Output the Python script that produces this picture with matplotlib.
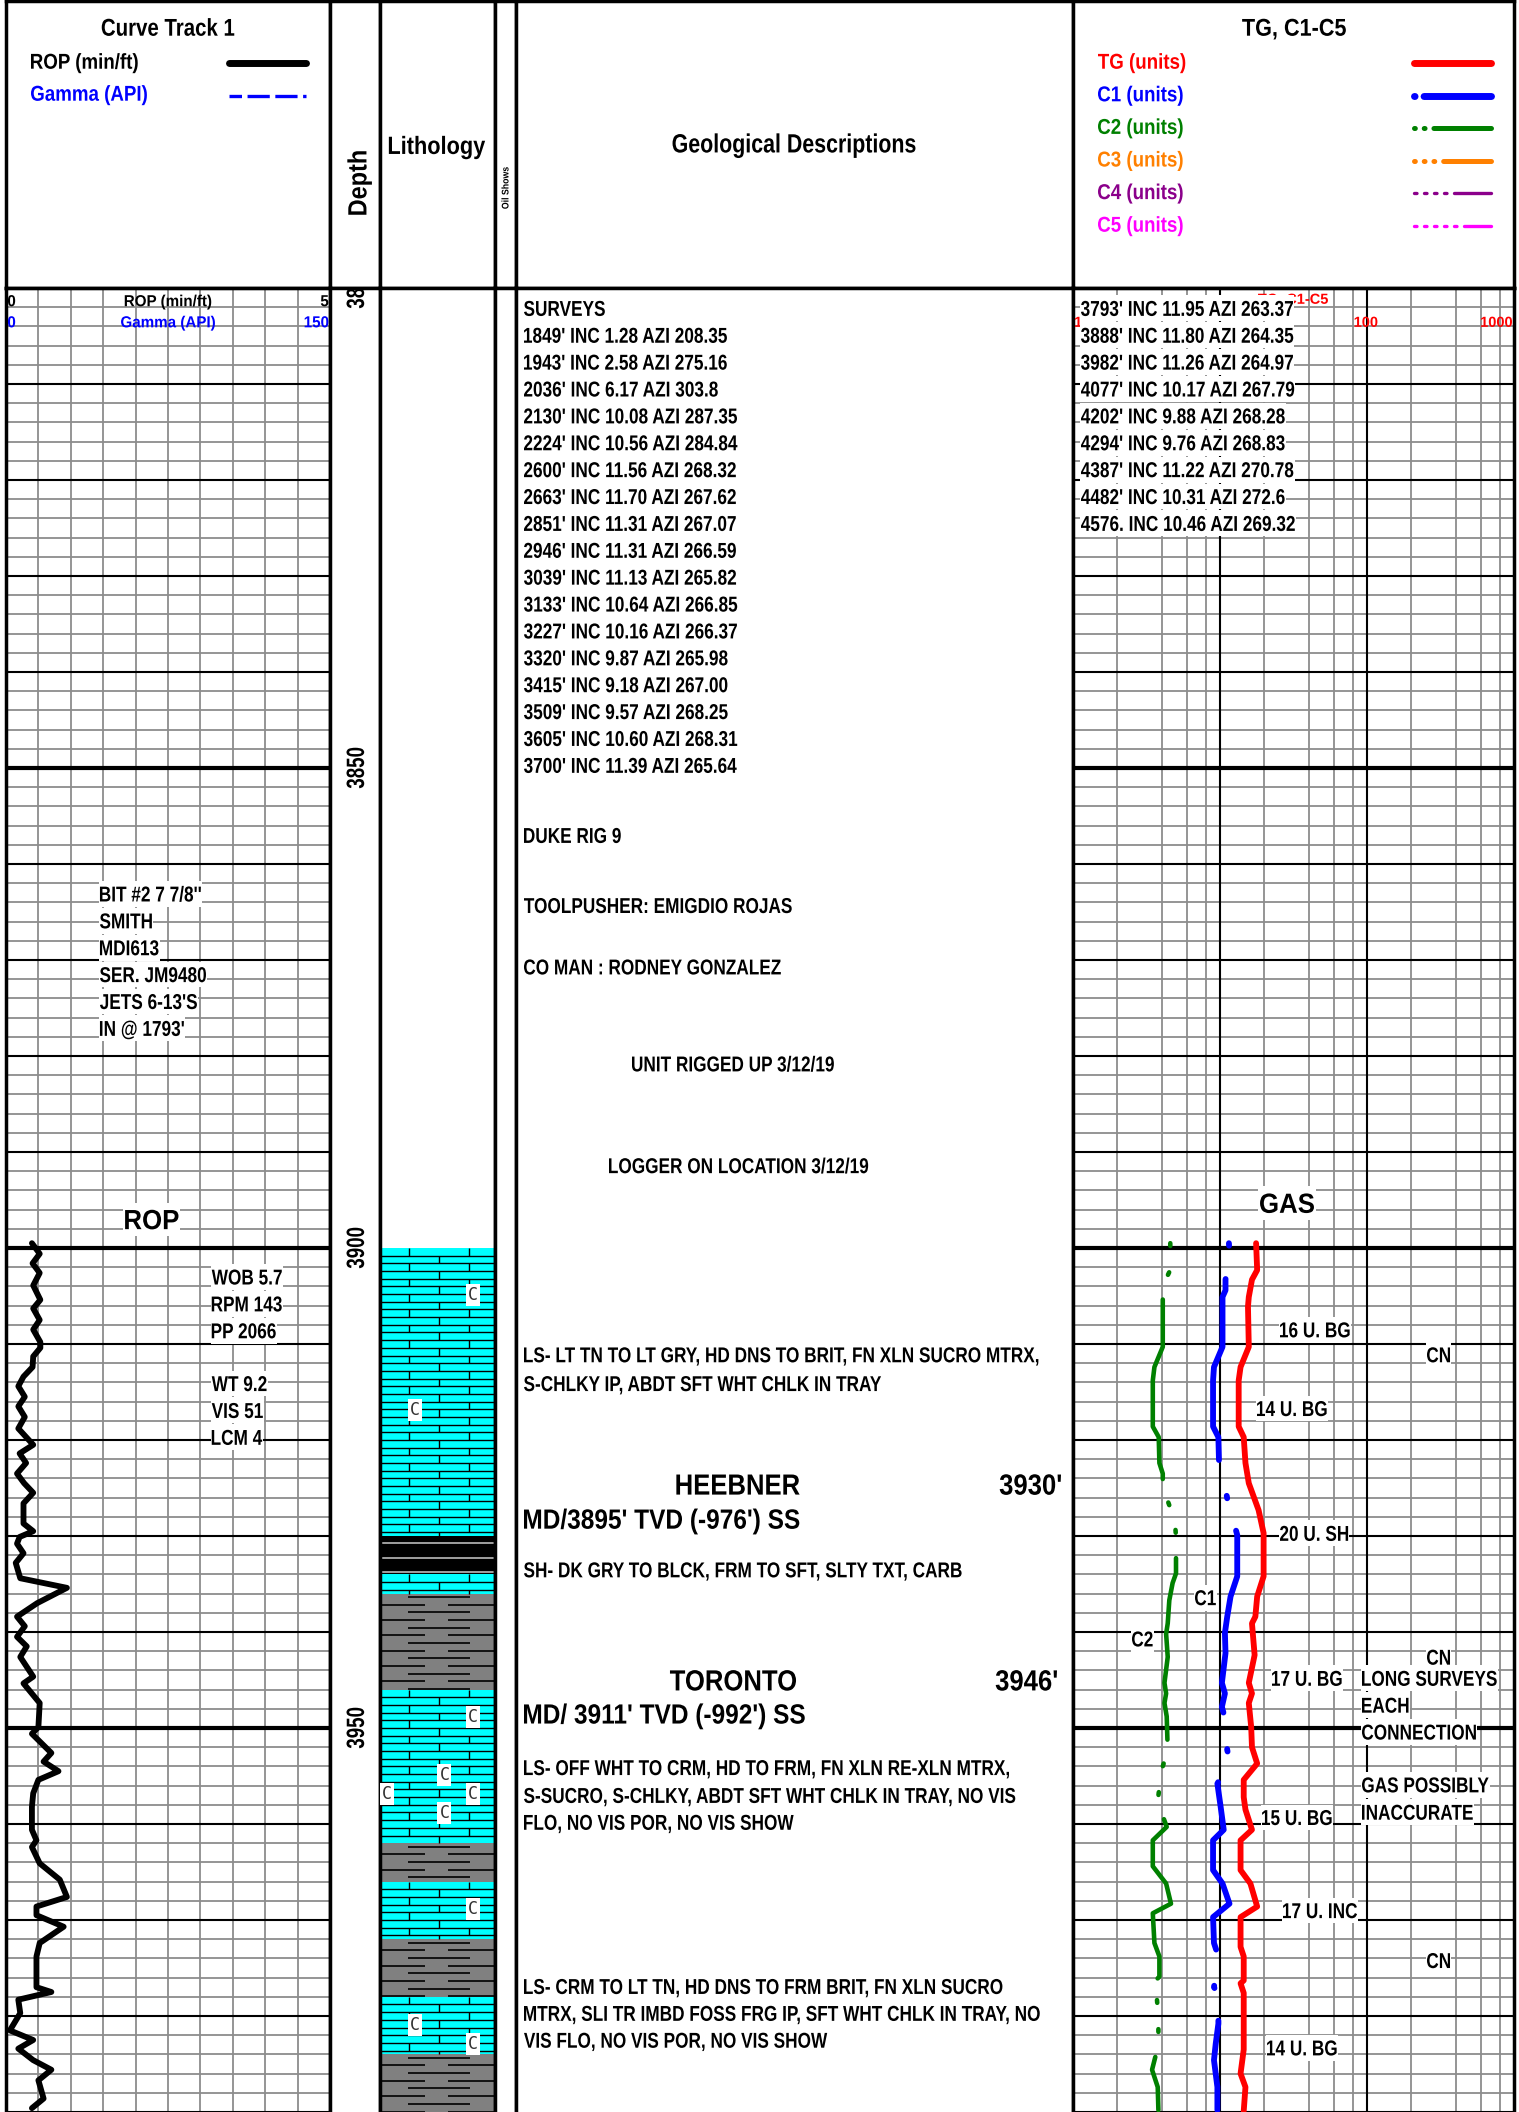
import matplotlib
matplotlib.use("Agg")
import matplotlib.pyplot as plt
import matplotlib.transforms as mtransforms
from matplotlib.font_manager import FontProperties
from matplotlib.patches import PathPatch, Rectangle
from matplotlib.textpath import TextPath
from matplotlib.ticker import NullLocator
import numpy as np

# ── Log data ──────────────────────────────────────────────────────────────────

ROP_DEPTH = [3899.5, 3900.6, 3901.6, 3902.6, 3903.9, 3905.4, 3906.3, 3907.5, 3908.5,
             3909.8, 3910.4, 3911.3, 3912.4, 3913.4, 3914.4, 3915.5, 3916.5, 3917.6,
             3918.8, 3920.5, 3921.4, 3922.4, 3923.5, 3924.5, 3925.5, 3926.6, 3928.7,
             3929.5, 3930.1, 3930.8, 3931.8, 3932.8, 3934.4, 3935.4, 3937.0, 3938.4,
             3939.4, 3940.5, 3941.5, 3942.6, 3944.65, 3945.35, 3947.4, 3949.9, 3950.6,
             3952.6, 3953.5, 3954.5, 3955.4, 3956.8, 3958.2, 3960.6, 3961.7, 3962.4,
             3964.1, 3965.8, 3967.6, 3968.6, 3969.5, 3970.7, 3972.4, 3973.8, 3977.0,
             3977.5, 3978.3, 3979.7, 3981.5, 3982.5, 3983.4, 3984.6, 3985.6, 3986.7,
             3988.6, 3989.6]
ROP = [0.40, 0.52, 0.41, 0.52, 0.42, 0.53, 0.42, 0.52, 0.42, 0.53, 0.53, 0.42, 0.41,
       0.27, 0.19, 0.29, 0.19, 0.29, 0.19, 0.42, 0.21, 0.31, 0.17, 0.28, 0.42, 0.27,
       0.27, 0.42, 0.21, 0.17, 0.27, 0.15, 0.22, 0.94, 0.48, 0.17, 0.29, 0.17, 0.32,
       0.22, 0.42, 0.27, 0.52, 0.50, 0.40, 0.70, 0.58, 0.81, 0.50, 0.42, 0.40, 0.40,
       0.47, 0.40, 0.52, 0.83, 0.94, 0.47, 0.47, 0.89, 0.52, 0.47, 0.47, 0.70, 0.19,
       0.22, 0.06, 0.42, 0.19, 0.42, 0.70, 0.50, 0.58, 0.40]

TG_DEPTH = [3899.5, 3902.3, 3903.3, 3905.1, 3906.1, 3910.3, 3912.4, 3913.8, 3918.6,
            3919.7, 3922.4, 3924.5, 3927.3, 3929.7, 3934.2, 3936.3, 3938.4, 3939.1,
            3942.4, 3945.3, 3946.4, 3947.4, 3949.9, 3952.0, 3953.7, 3955.4, 3957.2,
            3958.5, 3960.6, 3961.7, 3964.8, 3966.2, 3968.6, 3969.7, 3972.8, 3973.8,
            3976.3, 3976.6, 3977.6, 3983.5, 3986.0, 3987.4, 3989.9]
TG = [17.6, 17.9, 16.5, 15.7, 15.5, 15.7, 13.8, 13.4, 13.4, 14.5, 14.9, 15.7, 18.3,
      19.8, 19.8, 17.9, 17.4, 16.5, 17.2, 15.7, 16.5, 15.7, 16.3, 16.5, 17.9, 14.5,
      14.5, 14.9, 16.5, 13.8, 13.8, 16.1, 17.9, 13.8, 13.8, 14.5, 14.5, 13.8, 14.5,
      14.5, 13.8, 14.9, 14.5]

C1_DEPTH = [3899.5, 3900.6, 3903.3, 3904.4, 3905.1, 3910.3, 3912.4, 3913.8, 3918.6,
            3919.7, 3922.4, 3923.1, 3926.1, 3926.9, 3929.9, 3934.2, 3936.3, 3938.4,
            3940.1, 3942.2, 3945.3, 3946.4, 3947.8, 3949.2, 3952.3, 3953.3, 3955.8,
            3958.2, 3960.6, 3961.7, 3964.8, 3966.2, 3968.3, 3969.7, 3972.4, 3973.8,
            3977.0, 3977.8, 3980.8, 3982.9, 3984.6, 3987.4, 3989.8]
C1 = [11.5, 11.6, 10.9, 10.9, 10.4, 10.4, 9.1, 8.97, 8.97, 9.75, 9.85, 10.3, 11.2,
      11.6, 13.1, 13.1, 11.8, 11.2, 10.8, 10.9, 10.3, 10.8, 10.3, 10.9, 11.2, 11.6,
      9.6, 10.1, 10.6, 8.97, 8.97, 10.4, 11.6, 8.97, 9.1, 9.75, 9.1, 9.75, 9.75,
      9.35, 9.1, 9.6, 9.6]

C2_DEPTH = [3899.5, 3900.2, 3902.5, 3903.2, 3905.2, 3910.3, 3912.4, 3913.8, 3918.6,
            3919.7, 3922.4, 3923.5, 3924.9, 3926.8, 3927.6, 3930.1, 3932.9, 3933.9,
            3934.9, 3936.7, 3939.1, 3940.2, 3942.6, 3945.3, 3946.4, 3947.4, 3948.8,
            3952.3, 3954.6, 3957.7, 3960.3, 3961.7, 3964.4, 3966.2, 3968.3, 3969.3,
            3972.4, 3973.8, 3975.9, 3976.6, 3977.3, 3980.1, 3983.0, 3985.6, 3987.4,
            3989.8]
C2 = [4.59, 4.59, 4.52, 4.30, 4.08, 4.08, 3.58, 3.49, 3.49, 3.83, 3.87, 4.08, 4.08,
      4.52, 4.89, 5.02, 5.02, 5.02, 4.76, 4.52, 4.41, 4.30, 4.41, 4.19, 4.30, 4.19,
      4.34, 4.41, 3.97, 3.77, 4.34, 3.49, 3.49, 4.30, 4.64, 3.49, 3.58, 3.87, 3.87,
      3.49, 3.68, 3.81, 3.81, 3.45, 3.77, 3.81]

# lithology intervals (top, base, rock)
LITH_TOP = [3900, 3930, 3934, 3936, 3946, 3962, 3966, 3972, 3978, 3984]
LITH_BASE = [3930, 3934, 3936, 3946, 3962, 3966, 3972, 3978, 3984, 3990]
LITH_TYPE = ["ls", "blk_sh", "ls", "sh", "ls", "sh", "ls", "sh", "ls", "sh"]

# chalk accessory symbols in the lithology column
CHALK_DEPTH = [3904.9, 3916.9, 3948.9, 3954.9, 3956.9, 3956.9, 3958.9, 3968.9, 3980.9, 3982.9]
CHALK_POS = [0.81, 0.30, 0.81, 0.56, 0.06, 0.81, 0.56, 0.81, 0.30, 0.81]

DEPTH_LABELS = [3800, 3850, 3900, 3950]

SURVEYS_A = ["1849' INC 1.28 AZI 208.35", "1943' INC 2.58 AZI 275.16",
             "2036' INC 6.17 AZI 303.8", "2130' INC 10.08 AZI 287.35",
             "2224' INC 10.56 AZI 284.84", "2600' INC 11.56 AZI 268.32",
             "2663' INC 11.70 AZI 267.62", "2851' INC 11.31 AZI 267.07",
             "2946' INC 11.31 AZI 266.59", "3039' INC 11.13 AZI 265.82",
             "3133' INC 10.64 AZI 266.85", "3227' INC 10.16 AZI 266.37",
             "3320' INC 9.87 AZI 265.98", "3415' INC 9.18 AZI 267.00",
             "3509' INC 9.57 AZI 268.25", "3605' INC 10.60 AZI 268.31",
             "3700' INC 11.39 AZI 265.64"]
SURVEYS_B = ["3793' INC 11.95 AZI 263.37", "3888' INC 11.80 AZI 264.35",
             "3982' INC 11.26 AZI 264.97", "4077' INC 10.17 AZI 267.79",
             "4202' INC 9.88 AZI 268.28", "4294' INC 9.76 AZI 268.83",
             "4387' INC 11.22 AZI 270.78", "4482' INC 10.31 AZI 272.6",
             "4576. INC 10.46 AZI 269.32"]

BIT_INFO = ["BIT #2 7 7/8''", "SMITH", "MDI613", "SER. JM9480", "JETS 6-13'S", "IN @ 1793'"]
DRILL_INFO = ["WOB 5.7", "RPM 143", "PP 2066"]
MUD_INFO = ["WT 9.2", "VIS 51", "LCM 4"]

# ── Layout (pixels) ───────────────────────────────────────────────────────────

W, H, DPI = 1519, 2112, 100
TOP, BOT = 3800, 3990
HDR = 288

X_TRACK1 = (6, 330)
X_DEPTH = (330, 380)
X_LITH = (380, 495)
X_SHOWS = (495, 516)
X_DESC = (516, 1073)
X_GAS = (1073, 1514)

CYAN = "#00ffff"
SHALE = "#808080"
GRID = "#8c8c8c"

FONT = "Liberation Sans"
plt.rcParams["font.family"] = [FONT, "DejaVu Sans"]
plt.rcParams["lines.scale_dashes"] = False

BODY = 15.5
PX = DPI / 72.0
CAP = 0.716

fig = plt.figure(figsize=(W / DPI, H / DPI), dpi=DPI)


def label(ax, x, y, s, size, transform=None, ha="left", color="black", weight="bold",
          squeeze=0.8, rotation=0, box=False, zorder=6):
    """Narrow log lettering: glyph outlines squeezed horizontally, centred on cap height."""
    transform = ax.transData if transform is None else transform
    path = TextPath((0, 0), s, size=1, prop=FontProperties(family=FONT, weight=weight))
    ext = path.get_extents()
    x0 = {"left": ext.x0, "center": (ext.x0 + ext.x1) / 2, "right": ext.x1}[ha]
    tr = (mtransforms.Affine2D().translate(-x0, -CAP / 2)
          .scale(size * PX * squeeze, size * PX).rotate_deg(rotation)
          + mtransforms.ScaledTranslation(x, y, transform))
    if box:
        ax.add_patch(Rectangle((ext.x0 - 0.07, -0.25), ext.width + 0.14, 1.2, transform=tr,
                               fc="white", ec="none", zorder=zorder - 0.1))
    ax.add_patch(PathPatch(path, transform=tr, fc=color, ec="none", lw=0, zorder=zorder))


def px_rect(x0, x1, y0, y1):
    return [x0 / W, 1 - y1 / H, (x1 - x0) / W, (y1 - y0) / H]


def add_box(xr, y0, y1):
    ax = fig.add_axes(px_rect(xr[0], xr[1], y0, y1))
    ax.set_xlim(0, 1)
    ax.set_xticks([])
    ax.set_yticks([])
    for s in ax.spines.values():
        s.set_linewidth(2.5)
    return ax


def add_track(xr):
    ax = add_box(xr, HDR, H)
    ax.set_ylim(BOT, TOP)
    ax.spines["bottom"].set_visible(False)
    return ax


def depth_grid(ax):
    for d in np.arange(TOP, BOT + 1, 2):
        if d % 50 == 0:
            ax.axhline(d, color="black", lw=3.0, zorder=2)
        elif d % 10 == 0:
            ax.axhline(d, color="black", lw=1.5, zorder=2)
        else:
            ax.axhline(d, color=GRID, lw=1.3, zorder=1)


# ── Header ────────────────────────────────────────────────────────────────────

for xr in (X_TRACK1, X_DEPTH, X_LITH, X_SHOWS, X_DESC, X_GAS):
    add_box(xr, 1, HDR)

hdr = fig.add_axes([0, 0, 1, 1])
hdr.set_xlim(0, W)
hdr.set_ylim(H, 0)
hdr.axis("off")
hdr.patch.set_alpha(0)

label(hdr, 168, 27, "Curve Track 1", 17.5, ha="center", squeeze=0.84)
label(hdr, 31, 61, "ROP (min/ft)", 15.5, squeeze=0.87)
label(hdr, 31, 93, "Gamma (API)", 15.5, squeeze=0.87, color="blue")
hdr.plot([229, 306], [63, 63], color="black", lw=5, solid_capstyle="round")
hdr.plot([229, 306], [96, 96], color="blue", lw=2.4, linestyle=(7, [16, 4]))
label(hdr, 357, 183, "Depth", 19, ha="center", squeeze=0.89, rotation=90)
label(hdr, 437, 145, "Lithology", 18, ha="center", squeeze=0.87)
label(hdr, 505, 188, "Oil Shows", 7, ha="center", squeeze=0.9, rotation=90)
label(hdr, 794, 143, "Geological Descriptions", 19, ha="center", squeeze=0.81)
label(hdr, 1294, 27, "TG, C1-C5", 17.5, ha="center", squeeze=0.89)

legend = [
    ("TG (units)", "red", 5.0, None),
    ("C1 (units)", "blue", 5.0, [0.4, 6.5, 120]),
    ("C2 (units)", "green", 3.6, [0.6, 6.4, 0.6, 6.4, 120]),
    ("C3 (units)", "#ff8000", 3.6, [0.6, 6.4, 0.6, 6.4, 0.6, 6.4, 120]),
    ("C4 (units)", "#8b008b", 2.4, [1.8, 5.4, 1.8, 5.4, 1.8, 5.4, 1.8, 5.4, 120]),
    ("C5 (units)", "magenta", 2.4, [1.8, 5.4, 1.8, 5.4, 1.8, 5.4, 1.8, 5.4, 1.8, 5.4, 120]),
]
for i, (lbl, col, lw, dash) in enumerate(legend):
    y = 61 + i * 32.6
    label(hdr, 1098, y, lbl, 15.5, squeeze=0.87, color=col)
    kw = dict(color=col, lw=lw, solid_capstyle="round", dash_capstyle="round")
    if dash:
        kw["dashes"] = dash
    hdr.plot([1414, 1491], [y + 2, y + 2], **kw)

# ── Curve track 1 ─────────────────────────────────────────────────────────────

ax1 = add_track(X_TRACK1)
ax1.set_xlim(0, 5)
for x in np.arange(0.5, 5, 0.5):
    ax1.axvline(x, color=GRID, lw=1.3, zorder=1)
depth_grid(ax1)
ax1.plot(ROP, ROP_DEPTH, color="black", lw=4.2, solid_joinstyle="round",
         solid_capstyle="round", zorder=5)

t1 = ax1.get_yaxis_transform()
label(ax1, 0.006, 3801.3, "0", 11.5, transform=t1, squeeze=0.95)
label(ax1, 0.5, 3801.3, "ROP (min/ft)", 11.5, transform=t1, ha="center", squeeze=0.95)
label(ax1, 0.995, 3801.3, "5", 11.5, transform=t1, ha="right", squeeze=0.95)
label(ax1, 0.006, 3803.5, "0", 11.5, transform=t1, squeeze=0.95, color="blue")
label(ax1, 0.5, 3803.5, "Gamma (API)", 11.5, transform=t1, ha="center", squeeze=0.95, color="blue")
label(ax1, 0.995, 3803.5, "150", 11.5, transform=t1, ha="right", squeeze=0.95, color="blue")

for i, s in enumerate(BIT_INFO):
    label(ax1, 0.29, 3863.1 + 2.8 * i, s, BODY, transform=t1, box=True)
for i, s in enumerate(DRILL_INFO):
    label(ax1, 0.635, 3903.0 + 2.8 * i, s, BODY, transform=t1, box=True)
for i, s in enumerate(MUD_INFO):
    label(ax1, 0.635, 3914.1 + 2.8 * i, s, BODY, transform=t1, box=True)
label(ax1, 0.45, 3897.0, "ROP", 20, transform=t1, ha="center", squeeze=0.93, box=True)

# ── Depth column ──────────────────────────────────────────────────────────────

axd = add_track(X_DEPTH)
for d in DEPTH_LABELS:
    label(axd, 0.5, d, str(d), 18, transform=axd.get_yaxis_transform(), ha="center",
          squeeze=0.75, rotation=90)

# ── Lithology column ──────────────────────────────────────────────────────────

axl = add_track(X_LITH)
row = 0.8
for top, base, rock in zip(LITH_TOP, LITH_BASE, LITH_TYPE):
    if rock == "ls":
        axl.axhspan(top, base, color=CYAN, lw=0, zorder=1)
        for i, r in enumerate(np.arange(top, base - 1e-6, row)):
            r2 = min(r + row, base)
            if i > 0:
                axl.hlines(r, 0, 1, color="black", lw=1.0, zorder=2)
            xs = [0.255, 0.77] if i % 2 == 0 else [0.513]
            axl.vlines(xs, r, r2, color="black", lw=1.0, zorder=2)
    elif rock == "sh":
        axl.axhspan(top, base, color=SHALE, lw=0, zorder=1)
        for i, r in enumerate(np.arange(top + 0.35, base, row)):
            if i % 2 == 0:
                axl.hlines(r, 0.24, 0.78, color="black", lw=1.2, zorder=2)
            else:
                axl.hlines(r, 0, 0.39, color="black", lw=1.2, zorder=2)
                axl.hlines(r, 0.59, 1, color="black", lw=1.2, zorder=2)
    else:
        axl.axhspan(top, base, color="black", lw=0, zorder=1)
        for r in np.arange(top + 0.75, base, 1.5):
            axl.hlines(r, 0, 1, color="#bbbbbb", lw=1.2, zorder=2)

for d, x in zip(CHALK_DEPTH, CHALK_POS):
    axl.text(x, d, "C", fontsize=12, family="DejaVu Sans Mono", color="#333333",
             ha="center", va="center", zorder=4, clip_on=True,
             bbox=dict(boxstyle="square,pad=0.12", fc="white", ec="none"))

# ── Oil shows column ──────────────────────────────────────────────────────────

axs = add_track(X_SHOWS)

# ── Geological descriptions ───────────────────────────────────────────────────

axg = add_track(X_DESC)
tg = axg.get_yaxis_transform()


def note(s, d, x=524, size=BODY, **kw):
    label(axg, (x - X_DESC[0]) / (X_DESC[1] - X_DESC[0]), d, s, size, transform=tg, **kw)


note("SURVEYS", 3802.1)
for i, s in enumerate(SURVEYS_A):
    note(s, 3802.1 + 2.8 * (i + 1))
note("DUKE RIG 9", 3857.0)
note("TOOLPUSHER: EMIGDIO ROJAS", 3864.3)
note("CO MAN : RODNEY GONZALEZ", 3870.7)
note("UNIT RIGGED UP 3/12/19", 3880.8, x=632)
note("LOGGER ON LOCATION 3/12/19", 3891.4, x=609)
note("LS- LT TN TO LT GRY, HD DNS TO BRIT, FN XLN SUCRO MTRX,", 3911.1)
note("S-CHLKY IP, ABDT SFT WHT CHLK IN TRAY", 3914.1)
note("HEEBNER", 3924.6, x=738, size=21, ha="center", squeeze=0.88)
note("3930'", 3924.6, x=1061, size=21, ha="right", squeeze=0.88)
note("MD/3895' TVD (-976') SS", 3928.2, size=20, squeeze=0.88)
note("SH- DK GRY TO BLCK, FRM TO SFT, SLTY TXT, CARB", 3933.5)
note("TORONTO", 3945.0, x=733, size=21, ha="center", squeeze=0.88)
note("3946'", 3945.0, x=1057, size=21, ha="right", squeeze=0.88)
note("MD/ 3911' TVD (-992') SS", 3948.5, size=20, squeeze=0.88)
note("LS- OFF WHT TO CRM, HD TO FRM, FN XLN RE-XLN MTRX,", 3954.1)
note("S-SUCRO, S-CHLKY, ABDT SFT WHT CHLK IN TRAY, NO VIS", 3957.0)
note("FLO, NO VIS POR, NO VIS SHOW", 3959.8)
note("LS- CRM TO LT TN, HD DNS TO FRM BRIT, FN XLN SUCRO", 3976.9)
note("MTRX, SLI TR IMBD FOSS FRG IP, SFT WHT CHLK IN TRAY, NO", 3979.7)
note("VIS FLO, NO VIS POR, NO VIS SHOW", 3982.5)

# ── Gas track ─────────────────────────────────────────────────────────────────

axgas = add_track(X_GAS)
axgas.set_xscale("log")
axgas.set_xlim(1, 1000)
axgas.xaxis.set_major_locator(NullLocator())
axgas.xaxis.set_minor_locator(NullLocator())
for dec in (1, 10, 100):
    for m in (2, 4, 6, 8):
        axgas.axvline(dec * m, color=GRID, lw=1.3, zorder=1)
for v in (10, 100):
    axgas.axvline(v, color="black", lw=1.5, zorder=2)
depth_grid(axgas)

axgas.plot(TG, TG_DEPTH, color="red", lw=4.2, solid_joinstyle="round",
           solid_capstyle="round", zorder=5)
axgas.plot(C1, C1_DEPTH, color="blue", lw=4.2, dashes=[1.8, 24.2, 133, 26.5],
           dash_capstyle="round", dash_joinstyle="round", zorder=5)
axgas.plot(C2, C2_DEPTH, color="green", lw=3.3, dashes=[2.0, 19, 2.0, 18.3, 132, 17.6],
           dash_capstyle="round", dash_joinstyle="round", zorder=5)

tgs = axgas.get_yaxis_transform()


def gx(x):
    return (x - X_GAS[0]) / (X_GAS[1] - X_GAS[0])


label(axgas, gx(1293), 3801.1, "TG, C1-C5", 10.5, transform=tgs, ha="center",
      color="red", squeeze=1.0, zorder=3)
label(axgas, gx(1075), 3803.5, "1", 10.5, transform=tgs, color="red", squeeze=1.0, zorder=3)
label(axgas, gx(1366), 3803.5, "100", 10.5, transform=tgs, ha="center", color="red",
      squeeze=1.0, zorder=3)
label(axgas, gx(1512), 3803.5, "1000", 10.5, transform=tgs, ha="right", color="red",
      squeeze=1.0, zorder=3)

for i, s in enumerate(SURVEYS_B):
    label(axgas, gx(1081), 3802.1 + 2.8 * i, s, BODY, transform=tgs, box=True, zorder=7)

gas_notes = [
    ("16 U. BG", 1280, 3908.5), ("CN", 1427, 3911.1), ("14 U. BG", 1257, 3916.7),
    ("20 U. SH", 1280, 3929.7), ("C1", 1195, 3936.4), ("C2", 1132, 3940.7),
    ("CN", 1427, 3942.6), ("17 U. BG", 1272, 3944.8), ("LONG SURVEYS", 1362, 3944.8),
    ("EACH", 1362, 3947.6), ("CONNECTION", 1362, 3950.4), ("GAS POSSIBLY", 1362, 3955.9),
    ("INACCURATE", 1362, 3958.75), ("15 U. BG", 1262, 3959.3), ("17 U. INC", 1283, 3969.0),
    ("CN", 1427, 3974.2), ("14 U. BG", 1267, 3983.3),
]
for s, x, d in gas_notes:
    label(axgas, gx(x), d, s, BODY, transform=tgs, box=True, zorder=7)
label(axgas, gx(1287), 3895.3, "GAS", 20, transform=tgs, ha="center", squeeze=0.93,
      box=True, zorder=7)

fig.savefig("out.png", dpi=DPI)
